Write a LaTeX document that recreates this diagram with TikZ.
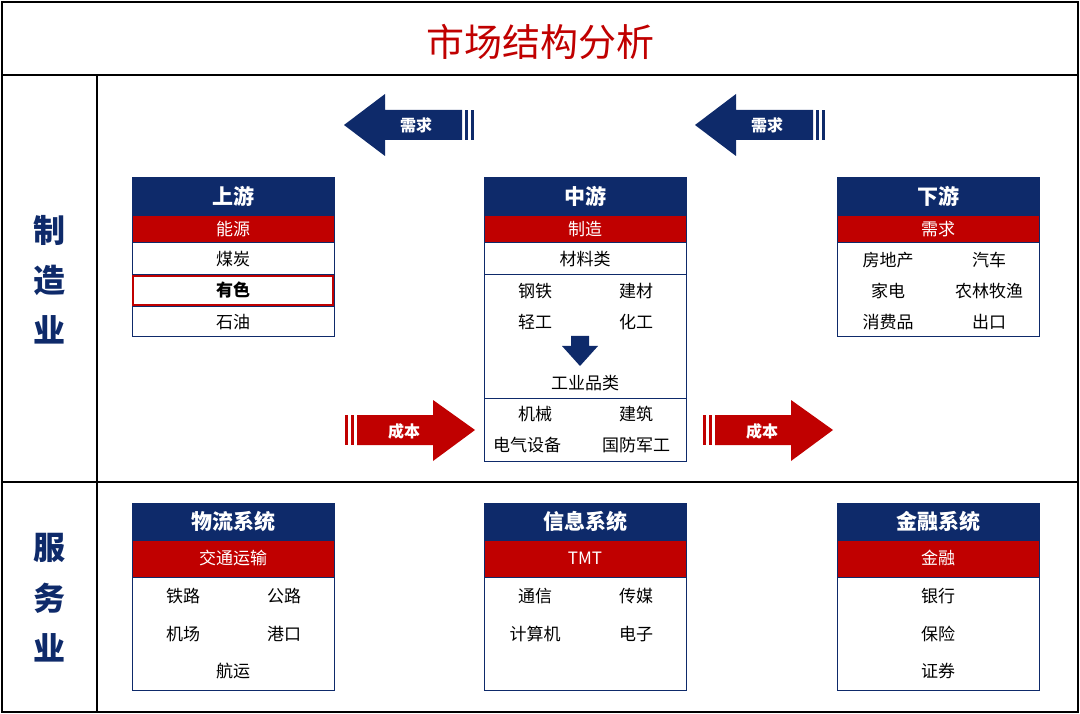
\documentclass[tikz,border=0pt]{standalone}
\usepackage{fontspec}
\setmainfont{Noto Sans CJK SC}
\newfontfamily\cjkb{Noto Sans CJK SC Bold}
\definecolor{navy}{HTML}{0E2A6A}
\definecolor{dred}{HTML}{C00000}
\begin{document}
\begin{tikzpicture}[x=1pt,y=-1pt,
  hdr/.style={fill=navy,draw=navy},
  redrow/.style={fill=dred,draw=navy},
  frame/.style={draw=navy,line width=1pt},
  htxt/.style={text=white,font=\fontsize{21}{21}\selectfont\bfseries},
  rtxt/.style={text=white,font=\fontsize{17}{17}\selectfont},
  itxt/.style={text=black,font=\fontsize{17}{17}\selectfont},
  side/.style={text=navy,font=\fontsize{32}{32}\selectfont\bfseries},
  atxt/.style={text=white,font=\fontsize{16}{16}\selectfont\bfseries}]
\useasboundingbox (0,0) rectangle (1080,714);
\draw[line width=1.5pt] (2,2) rectangle (1078,712);
\draw[line width=1.5pt] (2,75) -- (1078,75);
\draw[line width=1.5pt] (97,75) -- (97,712);
\draw[line width=1.5pt] (2,482) -- (1078,482);
\node[text=dred,font=\fontsize{38}{38}\selectfont] (title) at (540,42) {市场结构分析};
\node[side] (s1) at (50,230) {制};
\node[side] (s2) at (50,280) {造};
\node[side] (s3) at (50,330) {业};
\node[side] (t1) at (50,548) {服};
\node[side] (t2) at (50,598) {务};
\node[side] (t3) at (50,648) {业};
% upstream
\fill[hdr] (132,178) rectangle (334,215);
\fill[redrow] (132,215) rectangle (334,242);
\draw[frame] (132,178) rectangle (334,337);
\draw[navy] (132,274) -- (334,274);
\draw[navy] (132,306) -- (334,306);
\draw[dred,line width=2pt] (133,276) rectangle (333,305);
\node[htxt] (u0) at (233,196) {上游};
\node[rtxt] (u1) at (233,229) {能源};
\node[itxt] (u2) at (233,259) {煤炭};
\node[itxt,font=\fontsize{17}{17}\selectfont\bfseries] (u3) at (233,290) {有色};
\node[itxt] (u4) at (233,322) {石油};
% mid
\fill[hdr] (484,178) rectangle (686,215);
\fill[redrow] (484,215) rectangle (686,242);
\draw[frame] (484,178) rectangle (686,461);
\draw[navy] (484,274) -- (686,274);
\draw[navy] (484,398) -- (686,398);
\node[htxt] (m0) at (585,196) {中游};
\node[rtxt] (m1) at (585,229) {制造};
\node[itxt] (m2) at (585,259) {材料类};
\node[itxt] (m3) at (535,291) {钢铁};
\node[itxt] (m4) at (636,291) {建材};
\node[itxt] (m5) at (535,322) {轻工};
\node[itxt] (m6) at (636,322) {化工};
\fill[navy] (571,336) -- (589,336) -- (589,346) -- (598,346) -- (580,366) -- (562,346) -- (571,346) -- cycle;
\node[itxt] (m7) at (585,383) {工业品类};
\node[itxt] (m8) at (535,414) {机械};
\node[itxt] (m9) at (636,414) {建筑};
\node[itxt] (m10) at (527,445) {电气设备};
\node[itxt] (m11) at (636,445) {国防军工};
% down
\fill[hdr] (837,178) rectangle (1039,215);
\fill[redrow] (837,215) rectangle (1039,242);
\draw[frame] (837,178) rectangle (1039,337);
\node[htxt] (d0) at (938,196) {下游};
\node[rtxt] (d1) at (938,229) {需求};
\node[itxt] (d2) at (888,260) {房地产};
\node[itxt] (d3) at (989,260) {汽车};
\node[itxt] (d4) at (888,291) {家电};
\node[itxt] (d5) at (989,291) {农林牧渔};
\node[itxt] (d6) at (888,322) {消费品};
\node[itxt] (d7) at (989,322) {出口};
% services
\foreach \x/\h/\r in {132/物流系统/交通运输,484/信息系统/TMT,837/金融系统/金融}{
  \fill[hdr] (\x,503) rectangle (\x+202,540);
  \fill[redrow] (\x,540) rectangle (\x+202,577);
  \draw[frame] (\x,503) rectangle (\x+202,690);
  \node[htxt] at (\x+101,521) {\h};
  \node[rtxt] at (\x+101,558) {\r};
}
\node[itxt] (a1) at (183,596) {铁路};
\node[itxt] (a2) at (284,596) {公路};
\node[itxt] (a3) at (183,634) {机场};
\node[itxt] (a4) at (284,634) {港口};
\node[itxt] (a5) at (233,671) {航运};
\node[itxt] (b1) at (535,596) {通信};
\node[itxt] (b2) at (636,596) {传媒};
\node[itxt] (b3) at (535,634) {计算机};
\node[itxt] (b4) at (636,634) {电子};
\node[itxt] (c1) at (938,596) {银行};
\node[itxt] (c2) at (938,634) {保险};
\node[itxt] (c3) at (938,671) {证券};
% demand arrows
\foreach \x in {344,695}{
  \fill[navy] (\x,125) -- (\x+41,94) -- (\x+41,110) -- (\x+118,110) -- (\x+118,140) -- (\x+41,140) -- (\x+41,156) -- cycle;
  \fill[navy] (\x+121,110) rectangle (\x+124,140);
  \fill[navy] (\x+127,110) rectangle (\x+130,140);
  \node[atxt] at (\x+72,125) {需求};
}
% cost arrows
\foreach \x in {345,703}{
  \fill[dred] (\x,415) rectangle (\x+3,445);
  \fill[dred] (\x+6,415) rectangle (\x+9,445);
  \fill[dred] (\x+12,415) -- (\x+88,415) -- (\x+88,400) -- (\x+130,430) -- (\x+88,461) -- (\x+88,445) -- (\x+12,445) -- cycle;
  \node[atxt] at (\x+59,431) {成本};
}
\end{tikzpicture}
\end{document}
